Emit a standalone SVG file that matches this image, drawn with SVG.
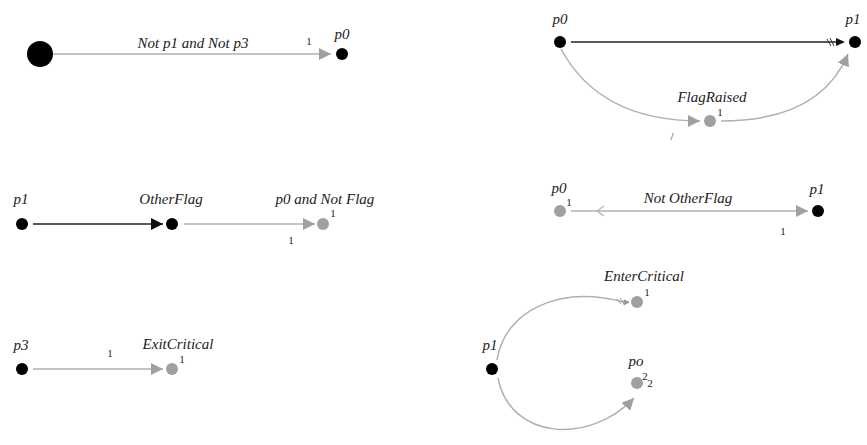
<svg xmlns="http://www.w3.org/2000/svg" width="867" height="445" viewBox="0 0 867 445" font-family="'Liberation Serif', 'DejaVu Serif', serif">
<defs>
<marker id="ag" viewBox="0 0 10 10" refX="10" refY="5" markerWidth="12" markerHeight="12" markerUnits="userSpaceOnUse" orient="auto"><path d="M0,0 L10,5 L0,10 z" fill="#a0a0a0"/></marker>
<marker id="ab" viewBox="0 0 10 10" refX="10" refY="5" markerWidth="12" markerHeight="12" markerUnits="userSpaceOnUse" orient="auto"><path d="M0,0 L10,5 L0,10 z" fill="#111"/></marker>
</defs>
<style>
text{font-family:'Liberation Serif','DejaVu Serif',serif;font-style:italic;fill:#222;font-size:15px}
text.n{font-style:normal;font-size:11px;fill:#222}
.b{fill:#000}
.g{fill:#a0a0a0}
.lg{stroke:#b0b0b0;stroke-width:1.5;fill:none}
.lb{stroke:#222;stroke-width:1.5;fill:none}
</style>
<rect width="867" height="445" fill="#fff"/>
<g id="connectors">
<line class="lg" x1="53" y1="54" x2="331" y2="54" marker-end="url(#ag)"/>
<line class="lb" x1="571" y1="42" x2="843" y2="42"/>
<path d="M836,38 L845,42 L836,46 z" fill="#111"/>
<path d="M830,38 L834,46 M827,39 L831,46" stroke="#333" stroke-width="1" fill="none"/>
<path class="lg" d="M561,49 Q600,121 700,121" marker-end="url(#ag)"/>
<path class="lg" d="M721,121 Q820,121 848,54" marker-end="url(#ag)"/>
<line class="lb" x1="33" y1="224" x2="163" y2="224" marker-end="url(#ab)"/>
<line class="lg" x1="184" y1="224" x2="315" y2="224" marker-end="url(#ag)"/>
<line class="lg" x1="571" y1="211" x2="808" y2="211" marker-end="url(#ag)"/>
<path d="M604,206 L597,211 L604,216" stroke="#b0b0b0" stroke-width="1.2" fill="none"/>
<line class="lg" x1="33" y1="369" x2="163" y2="369" marker-end="url(#ag)"/>
<path class="lg" d="M497,360 C505,310 560,285 624,302"/>
<path d="M617,299 L621,304 M620,298 L624,304 M624,300 L629,302 L624,305 z" stroke="#999" stroke-width="1" fill="#999"/>
<path class="lg" d="M498,378 C510,440 590,445 634,398" marker-end="url(#ag)"/>
</g>
<g id="n-start"><circle class="b" cx="40" cy="54" r="13"/></g>
<g id="n-p0a"><circle class="b" cx="342" cy="54" r="6"/><text x="342" y="39" text-anchor="middle">p0</text></g>
<text x="193" y="48" text-anchor="middle">Not p1 and Not p3</text>
<text class="n" x="309" y="45" text-anchor="middle">1</text>
<g id="n-p0b"><circle class="b" cx="560" cy="42" r="6"/><text x="560" y="24" text-anchor="middle">p0</text></g>
<g id="n-p1b"><circle class="b" cx="855" cy="42" r="6"/><text x="853" y="24" text-anchor="middle">p1</text></g>
<g id="n-flag"><circle class="g" cx="710" cy="121" r="6"/><text x="712" y="102" text-anchor="middle">FlagRaised</text><text class="n" x="720" y="116" text-anchor="middle">1</text></g>
<text class="n" x="672" y="140" text-anchor="middle">/</text>
<g id="n-p1c"><circle class="b" cx="22" cy="224" r="6"/><text x="21" y="204" text-anchor="middle">p1</text></g>
<g id="n-other"><circle class="b" cx="172" cy="224" r="6"/><text x="171" y="204" text-anchor="middle">OtherFlag</text></g>
<g id="n-p0c"><circle class="g" cx="323" cy="224" r="6"/><text x="325" y="204" text-anchor="middle">p0 and Not Flag</text><text class="n" x="333" y="217" text-anchor="middle">1</text></g>
<text class="n" x="291" y="244" text-anchor="middle">1</text>
<g id="n-p0d"><circle class="g" cx="560" cy="211" r="6"/><text x="559" y="193" text-anchor="middle">p0</text><text class="n" x="569" y="206" text-anchor="middle">1</text></g>
<g id="n-p1d"><circle class="b" cx="818" cy="211" r="6"/><text x="817" y="194" text-anchor="middle">p1</text></g>
<text x="688" y="203" text-anchor="middle">Not OtherFlag</text>
<text class="n" x="783" y="235" text-anchor="middle">1</text>
<g id="n-p3"><circle class="b" cx="22" cy="369" r="6"/><text x="21" y="350" text-anchor="middle">p3</text></g>
<g id="n-exit"><circle class="g" cx="172" cy="369" r="6"/><text x="178" y="349" text-anchor="middle">ExitCritical</text><text class="n" x="182" y="363" text-anchor="middle">1</text></g>
<text class="n" x="110" y="357" text-anchor="middle">1</text>
<g id="n-p1e"><circle class="b" cx="492" cy="369" r="6"/><text x="490" y="350" text-anchor="middle">p1</text></g>
<g id="n-enter"><circle class="g" cx="637" cy="302" r="6"/><text x="644" y="281" text-anchor="middle">EnterCritical</text><text class="n" x="647" y="296" text-anchor="middle">1</text></g>
<g id="n-po"><circle class="g" cx="637" cy="383" r="6"/><text x="636" y="366" text-anchor="middle">po</text><text class="n" x="645" y="380" text-anchor="middle">2</text><text class="n" x="650" y="387" text-anchor="middle">2</text></g>
</svg>
